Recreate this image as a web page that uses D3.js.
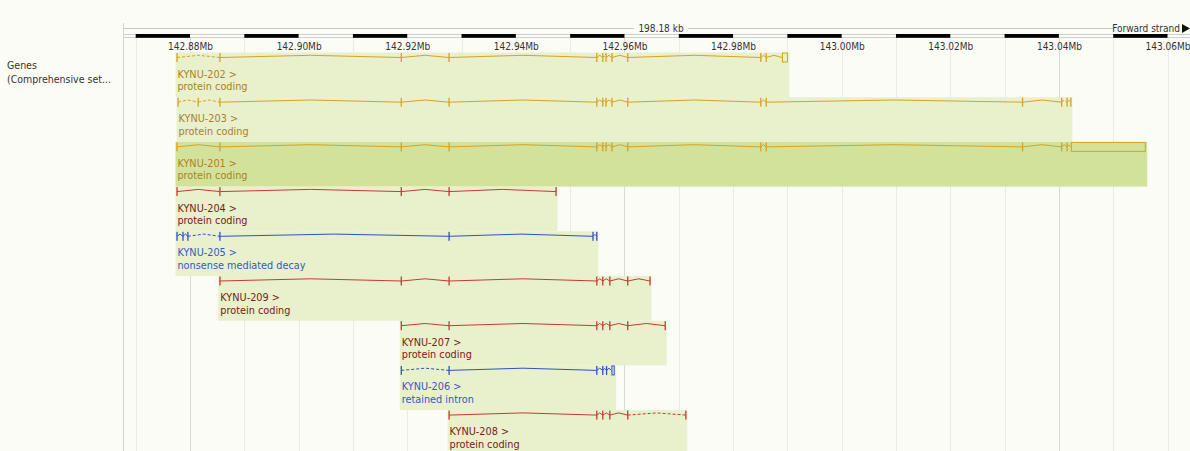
<!DOCTYPE html>
<html>
<head>
<meta charset="utf-8">
<script src="https://cdn.jsdelivr.net/npm/d3@7"></script>
<style>
  html, body { margin: 0; padding: 0; background: #fcfcf6; }
  svg { display: block; font-family: "DejaVu Sans Condensed", "DejaVu Sans", sans-serif; font-stretch: condensed; }
</style>
</head>
<body>
<svg id="chart"></svg>
<script>
// Gene track: KYNU transcripts (Ensembl style region view)

const width = 1190;
const height = 451;

// scale bar labels (Mb)
const scaleTicks = [142.88, 142.90, 142.92, 142.94, 142.96, 142.98, 143.00, 143.02, 143.04, 143.06];
// start of each black block in the ruler
const blackBlocks = [142.87, 142.89, 142.91, 142.93, 142.95, 142.97, 142.99, 143.01, 143.03, 143.05];
// vertical grid lines, every 10 kb; a few are drawn darker
const gridLines = [142.87, 142.88, 142.89, 142.90, 142.91, 142.92, 142.93, 142.94, 142.95, 142.96,
  142.97, 142.98, 142.99, 143.00, 143.01, 143.02, 143.03, 143.04, 143.05, 143.06];
const darkGrid = [142.88, 142.96, 143.04];

// transcripts, top to bottom
const names = ['KYNU-202', 'KYNU-203', 'KYNU-201', 'KYNU-204', 'KYNU-205', 'KYNU-209', 'KYNU-207', 'KYNU-206', 'KYNU-208'];
const biotypes = ['protein coding', 'protein coding', 'protein coding', 'protein coding', 'nonsense mediated decay',
  'protein coding', 'protein coding', 'retained intron', 'protein coding'];
const colourKeys = ['gold', 'gold', 'gold', 'red', 'blue', 'red', 'red', 'blue', 'red'];
const highlighted = 'KYNU-201';

// exon positions (Mb)
const exons = [
  [142.8776, 142.8855, 142.9189, 142.9277, 142.9549, 142.9560, 142.9566, 142.9577, 142.9606, 142.9851, 142.9861],
  [142.8778, 142.8815, 142.8855, 142.9189, 142.9277, 142.9549, 142.9560, 142.9566, 142.9577, 142.9606, 142.9851, 142.9861, 143.0333, 143.0405, 143.0415, 143.0422],
  [142.8776, 142.8855, 142.9189, 142.9277, 142.9549, 142.9560, 142.9566, 142.9577, 142.9606, 142.9851, 142.9861, 143.0333, 143.0405, 143.0415],
  [142.8776, 142.8855, 142.9189, 142.9277, 142.9474],
  [142.8776, 142.8787, 142.8796, 142.8855, 142.9277, 142.9542, 142.9549],
  [142.8855, 142.9189, 142.9277, 142.9549, 142.9560, 142.9573, 142.9606, 142.9647],
  [142.9189, 142.9277, 142.9549, 142.9560, 142.9573, 142.9606, 142.9675],
  [142.9189, 142.9277, 142.9549, 142.9560, 142.9567],
  [142.9277, 142.9549, 142.9560, 142.9573, 142.9606, 142.9713]
];
// non-coding end blocks drawn as open boxes [start, end] (Mb)
const utrBlocks = [
  [142.9890, 142.9901], null, [143.0422, 143.0560], null, null, null, null, [142.9576, 142.9582], null
];
// introns drawn dashed (index of intron within transcript)
const dashedIntrons = [[0], [0, 1, 13], [], [], [2], [], [], [0], [4]];

const colours = {
  gold: { line: '#d6a323', text: '#ad8027' },
  red: { line: '#c43c36', text: '#7a2020' },
  blue: { line: '#3253c2', text: '#3858c8' }
};

const x = d3.scaleLinear().domain([142.88, 143.06]).range([190, 1167.5]);

const svg = d3.select('#chart').attr('width', width).attr('height', height);

const panelLeft = 123;
const rowTop = 57;
const rowH = 44.7;

// grid lines
svg.append('g')
  .selectAll('line')
  .data(gridLines)
  .enter().append('line')
  .attr('x1', d => Math.round(x(d)) + 0.5)
  .attr('x2', d => Math.round(x(d)) + 0.5)
  .attr('y1', 37)
  .attr('y2', height)
  .attr('stroke', d => darkGrid.includes(d) ? '#d9d9d6' : '#ebebe6')
  .attr('stroke-width', 1);

// left border of the panel
svg.append('line')
  .attr('x1', panelLeft + 0.5).attr('x2', panelLeft + 0.5)
  .attr('y1', 23).attr('y2', height)
  .attr('stroke', '#d4d4d4');

// length bar
svg.append('line')
  .attr('x1', panelLeft).attr('x2', 1180)
  .attr('y1', 28.5).attr('y2', 28.5)
  .attr('stroke', '#c8c8c8');

const lenLabel = svg.append('text')
  .attr('x', 661).attr('y', 32)
  .attr('text-anchor', 'middle')
  .attr('font-size', 10)
  .attr('fill', '#333')
  .text('198.18 kb');
const bb = lenLabel.node().getBBox();
svg.insert('rect', 'text')
  .attr('x', bb.x - 4).attr('y', 24).attr('width', bb.width + 8).attr('height', 8)
  .attr('fill', '#fcfcf6');

svg.append('rect')
  .attr('x', 1114).attr('y', 24).attr('width', 76).attr('height', 8)
  .attr('fill', '#fcfcf6');
svg.append('text')
  .attr('x', 1180).attr('y', 32)
  .attr('text-anchor', 'end')
  .attr('font-size', 10)
  .attr('fill', '#333')
  .text('Forward strand');
svg.append('path')
  .attr('d', 'M1182,24 L1190,28.5 L1182,33 Z')
  .attr('fill', '#111');

// ruler strip
svg.append('rect')
  .attr('x', panelLeft + 0.5).attr('y', 34.5)
  .attr('width', width - panelLeft).attr('height', 3)
  .attr('fill', '#fcfcf6').attr('stroke', '#d0d0d0').attr('stroke-width', 1);

svg.append('g')
  .selectAll('rect')
  .data(blackBlocks)
  .enter().append('rect')
  .attr('x', d => x(d))
  .attr('y', 34)
  .attr('width', d => x(d + 0.01) - x(d))
  .attr('height', 3.8)
  .attr('fill', '#000');

// axis labels
const axis = d3.axisBottom(x)
  .tickValues(scaleTicks)
  .tickFormat(d => d.toFixed(2) + 'Mb')
  .tickSize(0)
  .tickPadding(0);

const axisG = svg.append('g')
  .attr('transform', 'translate(0,42.5)')
  .call(axis);
axisG.select('.domain').remove();
axisG.attr('font-family', null);
axisG.selectAll('text')
  .attr('font-size', 10)
  .attr('fill', '#333');

// track label
svg.append('text')
  .attr('x', 7).attr('y', 69)
  .attr('font-size', 10.5)
  .attr('fill', '#333')
  .text('Genes');
svg.append('text')
  .attr('x', 7).attr('y', 82.5)
  .attr('font-size', 10.5)
  .attr('fill', '#333')
  .text('(Comprehensive set...');

// transcripts
const rows = names.map((name, i) => {
  const pos = exons[i];
  const utr = utrBlocks[i];
  const start = pos[0];
  const end = utr ? utr[1] : pos[pos.length - 1];
  return { name, i, pos, utr, start, end, biotype: biotypes[i], col: colours[colourKeys[i]], y: rowTop + i * rowH };
});

const rowG = svg.append('g')
  .selectAll('g')
  .data(rows)
  .enter().append('g')
  .attr('transform', d => `translate(0,${d.y})`);

rowG.append('rect')
  .attr('x', d => x(d.start) - 1.5)
  .attr('y', -4.5)
  .attr('width', d => x(d.end) - x(d.start) + 3)
  .attr('height', rowH)
  .attr('fill', d => d.name === highlighted ? '#d3e29b' : '#e8f0cc');

// introns as small hats
rowG.each(function(d) {
  const g = d3.select(this);
  const stops = d.pos.slice();
  if (d.utr) stops.push(d.utr[0]);
  for (let k = 0; k < stops.length - 1; k++) {
    const a = x(stops[k]);
    const b = x(stops[k + 1]);
    const h = Math.min(2.2, (b - a) / 2);
    g.append('path')
      .attr('d', `M${a},0.5 L${(a + b) / 2},${0.5 - h} L${b},0.5`)
      .attr('fill', 'none')
      .attr('stroke', d.col.line)
      .attr('stroke-width', 1)
      .attr('stroke-dasharray', dashedIntrons[d.i].includes(k) ? '3,2' : null);
  }
});

rowG.selectAll('rect.exon')
  .data(d => d.pos.map(p => ({ p, col: d.col })))
  .enter().append('rect')
  .attr('class', 'exon')
  .attr('x', e => x(e.p) - 0.6)
  .attr('y', -4)
  .attr('width', 1.3)
  .attr('height', 9)
  .attr('fill', e => e.col.line);

rowG.filter(d => d.utr)
  .append('rect')
  .attr('x', d => x(d.utr[0]) + 0.5)
  .attr('y', -4)
  .attr('width', d => x(d.utr[1]) - x(d.utr[0]) - 1)
  .attr('height', 9)
  .attr('fill', 'none')
  .attr('stroke', d => d.col.line)
  .attr('stroke-width', 1);

rowG.append('text')
  .attr('x', d => x(d.start) + 0.5)
  .attr('y', 20.5)
  .attr('font-size', 10.8)
  .attr('fill', d => d.col.text)
  .text(d => d.name + ' >');

rowG.append('text')
  .attr('x', d => x(d.start) + 0.5)
  .attr('y', 33)
  .attr('font-size', 10.8)
  .attr('fill', d => d.col.text)
  .text(d => d.biotype);
</script>
</body>
</html>
